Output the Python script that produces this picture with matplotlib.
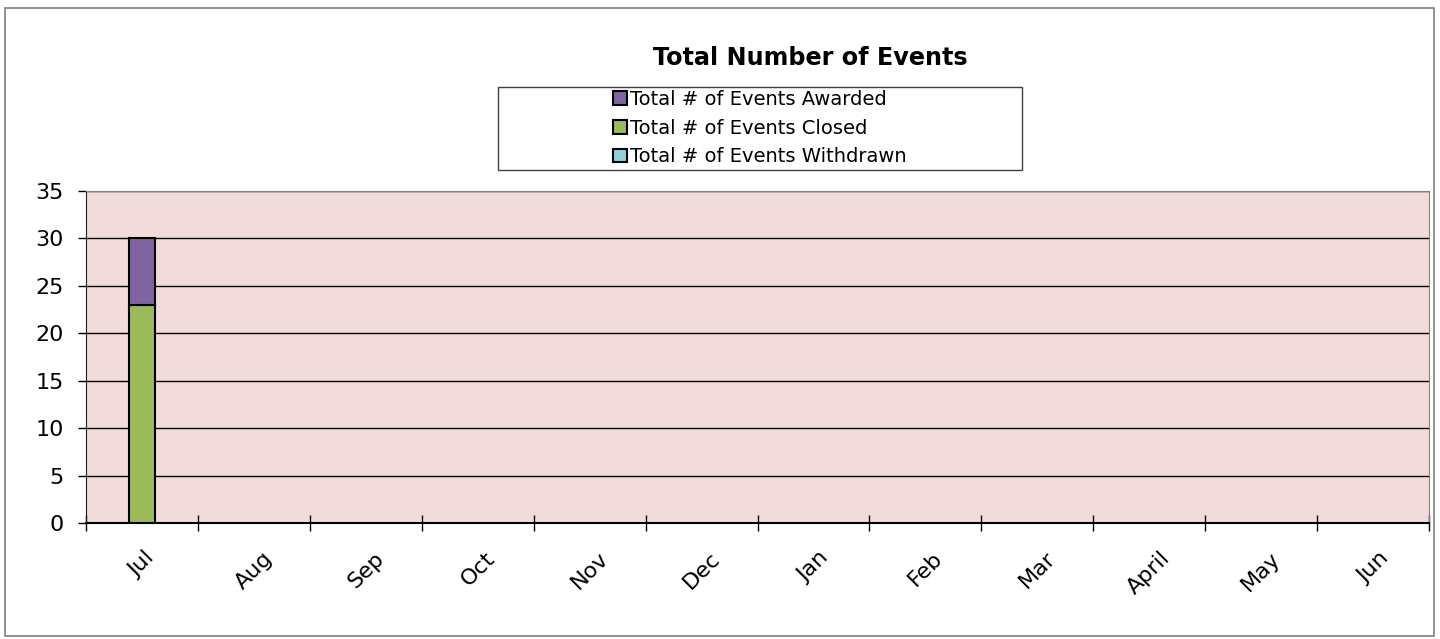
import matplotlib.pyplot as plt
from matplotlib.patches import Rectangle
import numpy as np

plt.rcParams['font.family'] = ['DejaVu Sans']

months = ['Jul', 'Aug', 'Sep', 'Oct', 'Nov', 'Dec',
          'Jan', 'Feb', 'Mar', 'April', 'May', 'Jun']
closed = [23, 0, 0, 0, 0, 0, 0, 0, 0, 0, 0, 0]
awarded = [7, 0, 0, 0, 0, 0, 0, 0, 0, 0, 0, 0]
withdrawn = [0, 0, 0, 0, 0, 0, 0, 0, 0, 0, 0, 0]

fig = plt.figure(figsize=(14.4, 6.39), dpi=100)
fig.patches.append(Rectangle((5 / 1440, 3 / 639), 1429 / 1440, 628 / 639,
                             transform=fig.transFigure, fill=False,
                             edgecolor='#7f7f7f', linewidth=1.2))

ax = fig.add_axes([86 / 1440, 1 - 523 / 639, 1343 / 1440, 332 / 639])
ax.set_facecolor('#F2DCDB')

x = np.arange(len(months))
w = 0.23
closed = np.array(closed)
awarded = np.array(awarded)
withdrawn = np.array(withdrawn)

def show(vals):
    # hide empty months like Excel does
    return np.where(vals > 0, vals, np.nan)

ax.bar(x, show(closed), w, color='#9BBB59', edgecolor='black', linewidth=1.5,
       label='Total # of Events Closed', zorder=3)
ax.bar(x, show(awarded), w, bottom=closed, color='#8064A2', edgecolor='black',
       linewidth=1.5, label='Total # of Events Awarded', zorder=3)
ax.bar(x, show(withdrawn), w, bottom=closed + awarded, color='#92CDDC',
       edgecolor='black', linewidth=1.5, label='Total # of Events Withdrawn', zorder=3)

ax.set_xlim(-0.5, len(months) - 0.5)
ax.set_ylim(0, 35)
ax.set_yticks(range(0, 36, 5))
ax.yaxis.grid(True, color='black', linewidth=1)
ax.set_axisbelow(True)

ax.set_xticks(np.arange(-0.5, len(months), 1))
ax.set_xticklabels([])
ax.set_xticks(x, minor=True)
ax.set_xticklabels(months, minor=True, rotation=45, ha='center', va='top')
ax.tick_params(axis='x', which='major', direction='inout', length=12, width=1)
ax.tick_params(axis='x', which='minor', length=0, pad=18, labelsize=16)
ax.tick_params(axis='y', direction='out', length=6, width=1, pad=10, labelsize=16)

for s in ['top', 'right']:
    ax.spines[s].set_color('#808080')
ax.spines['bottom'].set_linewidth(1.5)
ax.spines['left'].set_color('#202020')

fig.text(810 / 1440, 1 - 58 / 639, 'Total Number of Events', ha='center',
         va='center', fontsize=17.2, fontweight='bold')

h, l = ax.get_legend_handles_labels()
order = [1, 0, 2]
fig.patches.append(Rectangle((498 / 1440, 1 - 170 / 639), 524 / 1440, 83 / 639,
                             transform=fig.transFigure, fill=True, facecolor='white',
                             edgecolor='#404040', linewidth=1))
fig.legend([h[i] for i in order], [l[i] for i in order], loc='center',
           bbox_to_anchor=(760 / 1440, 1 - 128 / 639), frameon=False,
           fontsize=14, handlelength=0.7, handleheight=0.7, handletextpad=0.2,
           labelspacing=0.5, borderpad=0)

fig.savefig('out.png', dpi=100)
